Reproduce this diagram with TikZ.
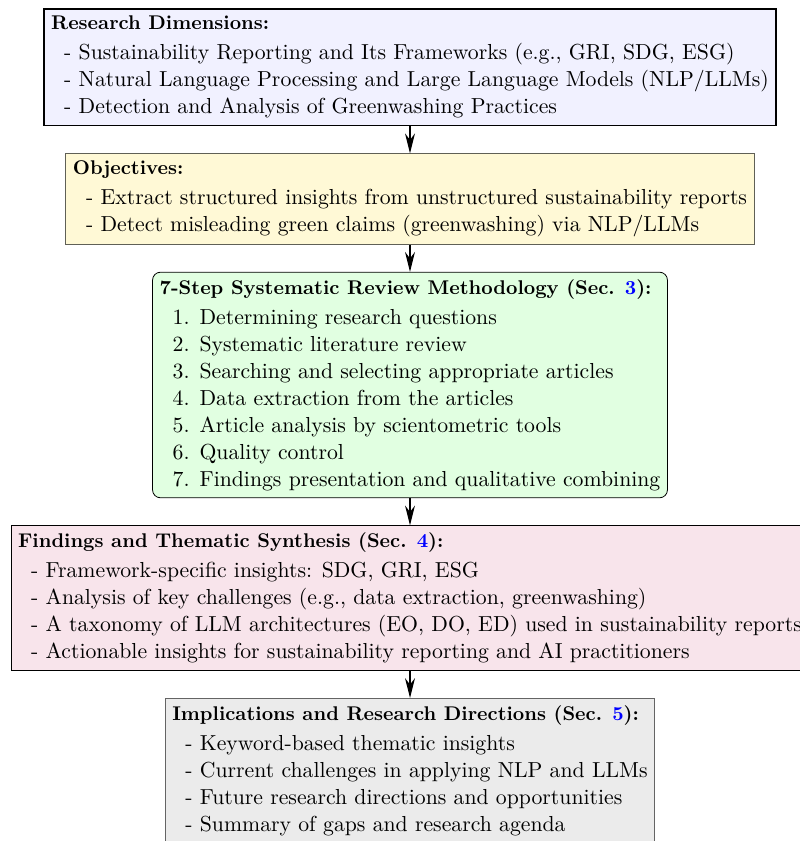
\documentclass[tikz,border=0pt]{standalone}
\usetikzlibrary{arrows.meta,positioning}
\definecolor{dimfill}{RGB}{241,241,255}
\definecolor{objfill}{RGB}{255,249,214}
\definecolor{objdraw}{RGB}{96,96,86}
\definecolor{stepfill}{RGB}{225,255,225}
\definecolor{findfill}{RGB}{248,228,235}
\definecolor{impfill}{RGB}{235,235,235}
\definecolor{impdraw}{RGB}{100,100,100}
\newcommand{\itm}{\hspace*{6.6pt}- }
\newcommand{\num}[1]{\hspace*{6.6pt}\makebox[8.5pt][r]{#1.}\hspace{5pt}}
\newcommand{\boxtitle}[1]{{\fontsize{10pt}{12pt}\selectfont\bfseries #1}\\[1.5pt]}
\begin{document}
\begin{tikzpicture}[x=0.5038pt,y=-0.5038pt,
  box/.style={draw, align=left, anchor=north, inner sep=3.6pt,
    font=\fontsize{10.95pt}{13.6pt}\selectfont},
  flow/.style={-{Stealth[length=10pt,width=5pt]}, semithick},
  node distance=13.7pt]
\useasboundingbox (0,0) rectangle (800,841);

\node[box, fill=dimfill, thick] (dims) at (410,8) {%
  \boxtitle{Research Dimensions:}
  \itm Sustainability Reporting and Its Frameworks (e.g., GRI, SDG, ESG)\\
  \itm Natural Language Processing and Large Language Models (NLP/LLMs)\\
  \itm Detection and Analysis of Greenwashing Practices};

\node[box, fill=objfill, draw=objdraw, below=of dims] (obj) {%
  \boxtitle{Objectives:}
  \itm Extract structured insights from unstructured sustainability reports\\
  \itm Detect misleading green claims (greenwashing) via NLP/LLMs};

\node[box, fill=stepfill, rounded corners=4pt, below=of obj] (steps) {%
  \boxtitle{7-Step Systematic Review Methodology (Sec. \textcolor{blue}{3}):}
  \num{1}Determining research questions\\
  \num{2}Systematic literature review\\
  \num{3}Searching and selecting appropriate articles\\
  \num{4}Data extraction from the articles\\
  \num{5}Article analysis by scientometric tools\\
  \num{6}Quality control\\
  \num{7}Findings presentation and qualitative combining};

\node[box, fill=findfill, below=of steps] (find) {%
  \boxtitle{Findings and Thematic Synthesis (Sec. \textcolor{blue}{4}):}
  \itm Framework-specific insights: SDG, GRI, ESG\\
  \itm Analysis of key challenges (e.g., data extraction, greenwashing)\\
  \itm A taxonomy of LLM architectures (EO, DO, ED) used in sustainability reports\\
  \itm Actionable insights for sustainability reporting and AI practitioners};

\node[box, fill=impfill, draw=impdraw, below=of find] (impl) {%
  \boxtitle{Implications and Research Directions (Sec. \textcolor{blue}{5}):}
  \itm Keyword-based thematic insights\\
  \itm Current challenges in applying NLP and LLMs\\
  \itm Future research directions and opportunities\\
  \itm Summary of gaps and research agenda};

\draw[flow] (dims) -- (obj);
\draw[flow] (obj) -- (steps);
\draw[flow] (steps) -- (find);
\draw[flow] (find) -- (impl);
\end{tikzpicture}
\end{document}
